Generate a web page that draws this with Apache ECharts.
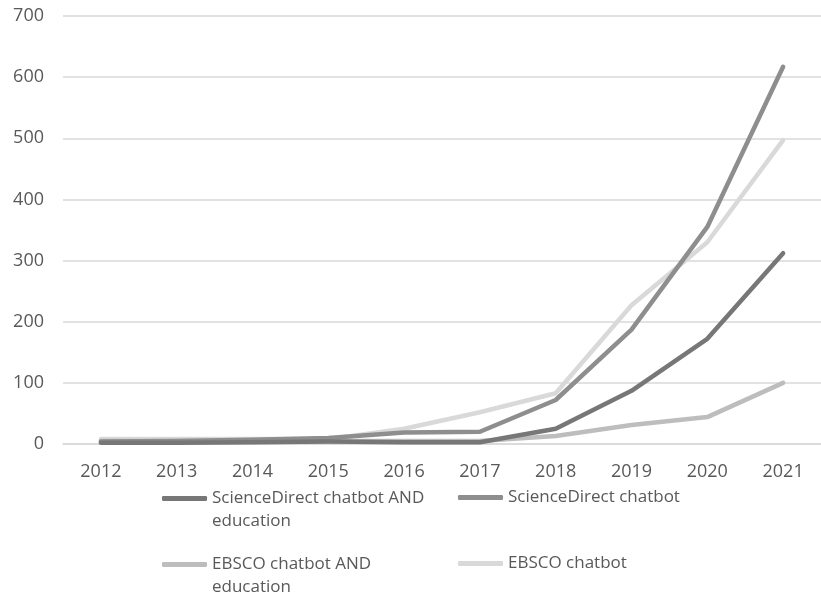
<!DOCTYPE html>
<html>
<head>
<meta charset="utf-8">
<script src="https://cdn.jsdelivr.net/npm/echarts@6/dist/echarts.min.js"></script>
<style>
  html, body { margin: 0; padding: 0; background: #fff; }
  #chart { width: 821px; height: 598px; }
</style>
</head>
<body>
<div id="chart"></div>
<script>
// years on the x axis
const years = ["2012", "2013", "2014", "2015", "2016", "2017", "2018", "2019", "2020", "2021"];

// values
const sdEducation = [2, 2, 3, 4, 3, 3, 25, 87, 172, 312];
const sdChatbot = [4, 5, 7, 10, 19, 20, 72, 187, 355, 617];
const ebscoEducation = [5, 5, 5, 5, 5, 5, 13, 31, 44, 100];
const ebscoChatbot = [8, 8, 8, 8, 25, 52, 83, 227, 330, 497];

const seriesNames = [
  "ScienceDirect chatbot AND education",
  "ScienceDirect chatbot",
  "EBSCO chatbot AND education",
  "EBSCO chatbot"
];
// how the legend wraps each name (blank first line keeps the icon on line one)
const legendText = {
  "ScienceDirect chatbot AND education": "\nScienceDirect chatbot AND\neducation",
  "ScienceDirect chatbot": "ScienceDirect chatbot",
  "EBSCO chatbot AND education": "\nEBSCO chatbot AND\neducation",
  "EBSCO chatbot": "EBSCO chatbot"
};
const seriesColors = ["#777777", "#8e8e8e", "#bdbdbd", "#d9d9d9"];

const font = "'Open Sans', 'Noto Sans', sans-serif";

const mkLegend = (name, left, top) => ({
  data: [name],
  left: left,
  top: top,
  padding: 0,
  icon: "roundRect",
  itemWidth: 45,
  itemHeight: 5,
  itemGap: 0,
  selectedMode: false,
  formatter: (n) => legendText[n],
  textStyle: {
    fontFamily: font,
    fontSize: 17,
    color: "#595959",
    lineHeight: 23
  }
});

const chart = echarts.init(document.getElementById("chart"));
chart.setOption({
  animation: false,
  grid: { left: 63, right: -10, top: 16, bottom: 154, containLabel: false },
  legend: [
    mkLegend(seriesNames[0], 162, 464),
    mkLegend(seriesNames[1], 458, 486),
    mkLegend(seriesNames[2], 162, 530),
    mkLegend(seriesNames[3], 458, 552)
  ],
  xAxis: {
    type: "category",
    data: years,
    boundaryGap: true,
    axisLine: { lineStyle: { color: "#d9d9d9", width: 1.5 } },
    axisTick: { show: false },
    axisLabel: { fontFamily: font, fontSize: 18, color: "#595959", margin: 19 }
  },
  yAxis: {
    type: "value",
    min: 0,
    max: 700,
    interval: 100,
    axisLine: { show: false },
    axisTick: { show: false },
    splitLine: { lineStyle: { color: "#d9d9d9", width: 1.5 } },
    axisLabel: { fontFamily: font, fontSize: 18, color: "#595959", margin: 19 }
  },
  series: [sdEducation, sdChatbot, ebscoEducation, ebscoChatbot].map((d, i) => ({
    name: seriesNames[i],
    type: "line",
    data: d,
    symbol: "none",
    color: seriesColors[i],
    lineStyle: { width: 4.5, color: seriesColors[i], cap: "round", join: "round" },
    z: 10 - i
  }))
});
</script>
</body>
</html>
